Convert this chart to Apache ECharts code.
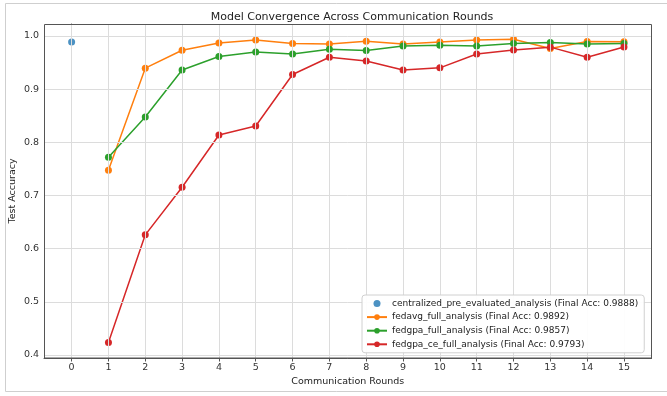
<!DOCTYPE html>
<html><head><meta charset="utf-8">
<script src="https://cdn.jsdelivr.net/npm/echarts@6/dist/echarts.min.js"></script>
<style>html,body{margin:0;padding:0;background:#fff}#c{width:667px;height:396px}</style>
</head><body><div id="c"></div>
<script>
const rounds = [0,1,2,3,4,5,6,7,8,9,10,11,12,13,14,15];
const yTicks = [0.4,0.5,0.6,0.7,0.8,0.9,1.0];
const centralized = [[0, 0.9888]];
const fedavg = [null,0.7475,0.9394,0.9732,0.9869,0.9925,0.9857,0.985,0.990,0.985,0.9888,0.9925,0.9938,0.9763,0.9894,0.9892];
const fedgpa = [null,0.772,0.8475,0.936,0.9613,0.970,0.9662,0.975,0.9726,0.9812,0.9825,0.981,0.9857,0.9875,0.985,0.9857];
const fedgpaCe = [null,0.4235,0.626,0.7156,0.8137,0.8306,0.9276,0.960,0.953,0.936,0.940,0.966,0.9737,0.979,0.960,0.9793];
const names = [
  'centralized_pre_evaluated_analysis (Final Acc: 0.9888)',
  'fedavg_full_analysis (Final Acc: 0.9892)',
  'fedgpa_full_analysis (Final Acc: 0.9857)',
  'fedgpa_ce_full_analysis (Final Acc: 0.9793)'
];
const colors = ['#1f77b4','#ff7f0e','#2ca02c','#d62728'];
const pair = arr => rounds.map((r,i)=>[r, arr[i]]).filter(p=>p[1]!==null);
const FONT = 'DejaVu Sans';
const chart = echarts.init(document.getElementById('c'), null, {renderer:'canvas'});
const lineSeries = (name, arr, color) => ({
  name, type:'line', data: pair(arr), symbol:'circle', symbolSize:7, z:3,
  itemStyle:{color}, lineStyle:{color, width:1.5}, emphasis:{disabled:true}, animation:false
});
chart.setOption({
  animation:false,
  title:{text:'Model Convergence Across Communication Rounds', left:347, top:7, textAlign:'center',
    textStyle:{fontFamily:FONT, fontSize:11, fontWeight:'normal', color:'#222'}},
  grid:{left:44, right:15.4, top:24, bottom:38, containLabel:false, outerBoundsMode:'none', show:false},
  xAxis:{type:'value', min:-0.75, max:15.75,
    name:'Communication Rounds', nameLocation:'middle', nameGap:19, nameMoveOverlap:false,
    nameTextStyle:{fontFamily:FONT, fontSize:9.5, color:'#222'},
    axisLine:{show:true, lineStyle:{color:'#555', width:1}},
    axisTick:{show:true, length:3.5, customValues:rounds, lineStyle:{color:'#555'}},
    axisLabel:{customValues:rounds, fontFamily:FONT, fontSize:9.5, color:'#333', margin:5},
    splitLine:{show:false}},
  yAxis:{type:'value', min:0.3944, max:1.0225,
    name:'Test Accuracy', nameLocation:'middle', nameGap:26, nameRotate:90, nameMoveOverlap:false,
    nameTextStyle:{fontFamily:FONT, fontSize:9.5, color:'#222'},
    axisLine:{show:true, lineStyle:{color:'#555', width:1}},
    axisTick:{show:true, length:3.5, customValues:yTicks, lineStyle:{color:'#555'}},
    axisLabel:{customValues:yTicks, fontFamily:FONT, fontSize:9.5, color:'#333', margin:5,
      formatter:v=>v.toFixed(1)},
    splitLine:{show:false}},
  legend:{orient:'vertical', left:362, top:295, width:285, z:20,
    backgroundColor:'rgba(255,255,255,0.92)', borderColor:'#d0d0d0', borderWidth:1, borderRadius:3,
    padding:[3,6,3,4], itemGap:2.6, itemWidth:20, itemHeight:7,
    textStyle:{fontFamily:FONT, fontSize:9, color:'#222', lineHeight:11},
    data:names.map((n,i)=>({name:n}))
  },
  series:[
    {type:'line', data:[], silent:true, z:1, markLine:{silent:true, symbol:'none', label:{show:false},
      lineStyle:{color:'#dcdcdc', type:'solid', width:1},
      data: rounds.map(r=>({xAxis:r})).concat(yTicks.map(t=>({yAxis:t})))}},
    {name:names[0], type:'scatter', data:centralized, symbol:'circle', symbolSize:7, z:3,
      itemStyle:{color:colors[0]}, emphasis:{disabled:true}},
    lineSeries(names[1], fedavg, colors[1]),
    lineSeries(names[2], fedgpa, colors[2]),
    lineSeries(names[3], fedgpaCe, colors[3])
  ],
  graphic:[
    {type:'rect', shape:{x:5.5, y:3.5, width:670, height:388}, style:{fill:'none', stroke:'#cfcfcf', lineWidth:1}, silent:true, z:-1},
    {type:'rect', shape:{x:44.5, y:24.5, width:607, height:333.5}, style:{fill:'none', stroke:'#555', lineWidth:1}, silent:true, z:10}
  ]
});
</script></body></html>
